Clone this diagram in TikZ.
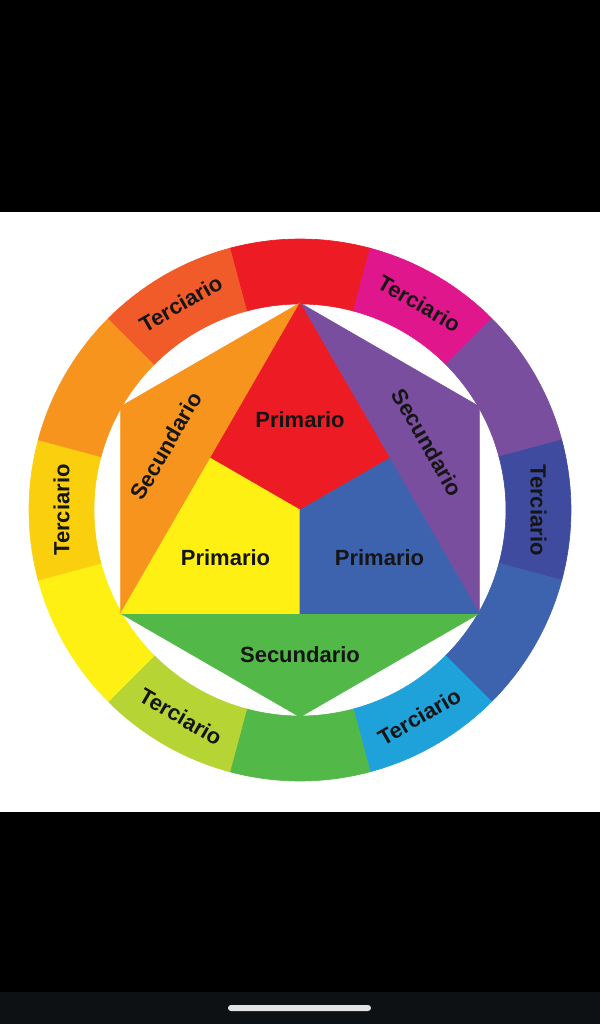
\documentclass[tikz,border=0pt]{standalone}
\usepackage{fontspec}
\setmainfont{Liberation Sans}
\definecolor{cred}{HTML}{ED1C24}
\definecolor{cmagenta}{HTML}{E0168C}
\definecolor{cpurple}{HTML}{7A4E9F}
\definecolor{cindigo}{HTML}{3F4B9F}
\definecolor{cblue}{HTML}{3D63AE}
\definecolor{ccyan}{HTML}{1FA2DA}
\definecolor{cgreen}{HTML}{52B848}
\definecolor{clime}{HTML}{B6D433}
\definecolor{cyellow}{HTML}{FFF014}
\definecolor{cgold}{HTML}{FAD00E}
\definecolor{corange}{HTML}{F7941E}
\definecolor{credorange}{HTML}{F15A29}
\definecolor{ctext}{HTML}{151515}
\definecolor{navbar}{HTML}{0E1113}
\definecolor{pill}{HTML}{E2E2E2}
\tikzset{
	seg/.style={fill=#1,draw=#1,line width=0.6pt},
	lbl/.style={font=\bfseries\fontsize{22}{26}\selectfont,text=ctext,inner sep=0pt}
}

\begin{document}
\begin{tikzpicture}[x=1pt,y=1pt]
			\useasboundingbox (-300,-514) rectangle (300,510);
			\fill[black] (-300,298) rectangle (300,510);
			\fill[white] (-300,-302) rectangle (300,298);
			\fill[black] (-300,-302) rectangle (300,-482);
			\fill[navbar] (-300,-482) rectangle (300,-514);
			\fill[pill,rounded corners=3] (-72,-495) rectangle (71,-501);

			\filldraw[seg=cred] (75:206) arc (75:105:206) -- (105:271) arc (105:75:271) -- cycle;
			\filldraw[seg=cmagenta] (45:206) arc (45:75:206) -- (75:271) arc (75:45:271) -- cycle;
			\filldraw[seg=cpurple] (15:206) arc (15:45:206) -- (45:271) arc (45:15:271) -- cycle;
			\filldraw[seg=cindigo] (-15:206) arc (-15:15:206) -- (15:271) arc (15:-15:271) -- cycle;
			\filldraw[seg=cblue] (-45:206) arc (-45:-15:206) -- (-15:271) arc (-15:-45:271) -- cycle;
			\filldraw[seg=ccyan] (-75:206) arc (-75:-45:206) -- (-45:271) arc (-45:-75:271) -- cycle;
			\filldraw[seg=cgreen] (-105:206) arc (-105:-75:206) -- (-75:271) arc (-75:-105:271) -- cycle;
			\filldraw[seg=clime] (-135:206) arc (-135:-105:206) -- (-105:271) arc (-105:-135:271) -- cycle;
			\filldraw[seg=cyellow] (-165:206) arc (-165:-135:206) -- (-135:271) arc (-135:-165:271) -- cycle;
			\filldraw[seg=cgold] (165:206) arc (165:195:206) -- (195:271) arc (195:165:271) -- cycle;
			\filldraw[seg=corange] (135:206) arc (135:165:206) -- (165:271) arc (165:135:271) -- cycle;
			\filldraw[seg=credorange] (105:206) arc (105:135:206) -- (135:271) arc (135:105:271) -- cycle;

			\coordinate (o) at (0,0);
			\coordinate (top) at (90:207);
			\coordinate (bl) at (210:207);
			\coordinate (br) at (330:207);
			\coordinate (hl) at (150:207);
			\coordinate (hr) at (30:207);
			\coordinate (hb) at (270:207);
			\coordinate (ml) at (150:103.5);
			\coordinate (mr) at (30:103.5);
			\coordinate (mb) at (270:103.5);

			\filldraw[seg=corange] (hl) -- (top) -- (bl) -- cycle;
			\filldraw[seg=cpurple] (top) -- (hr) -- (br) -- cycle;
			\filldraw[seg=cgreen] (bl) -- (br) -- (hb) -- cycle;
			\filldraw[seg=cred] (top) -- (mr) -- (o) -- (ml) -- cycle;
			\filldraw[seg=cyellow] (ml) -- (o) -- (mb) -- (bl) -- cycle;
			\filldraw[seg=cblue] (mr) -- (br) -- (mb) -- (o) -- cycle;

			\node[lbl] (prim-r) at (0,90) {Primario};
			\node[lbl] (prim-y) at (-74.5,-48) {Primario};
			\node[lbl] (prim-b) at (79.5,-48) {Primario};
			\node[lbl,rotate=60] (sec-o) at (-134,64) {Secundario};
			\node[lbl,rotate=-60] (sec-p) at (127.5,67.5) {Secundario};
			\node[lbl] (sec-g) at (0,-145) {Secundario};

			\node[lbl,rotate=30] (ter-ro) at (120:238.5) {Terciario};
			\node[lbl,rotate=-30] (ter-m) at (60:238.5) {Terciario};
			\node[lbl,rotate=-90] (ter-i) at (0:238.5) {Terciario};
			\node[lbl,rotate=90] (ter-go) at (180:238.5) {Terciario};
			\node[lbl,rotate=30] (ter-c) at (-60:238.5) {Terciario};
			\node[lbl,rotate=-30] (ter-l) at (-120:238.5) {Terciario};
		\end{tikzpicture}
\end{document}
